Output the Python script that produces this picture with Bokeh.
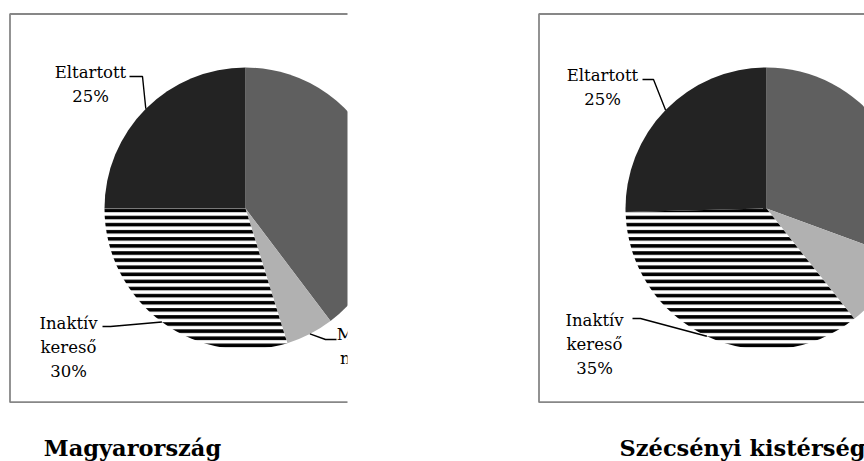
import math
from bokeh.plotting import figure
from bokeh.models import Range1d, ColumnDataSource
from bokeh.core.properties import value
from bokeh.embed import file_html
from bokeh.resources import INLINE

# ---- data ----
categories = ["Foglalkoztatott", "Munkanélküli", "Inaktív kereső", "Eltartott"]
hu_values = [39.7, 5.5, 29.8, 25.0]     # Magyarország
sz_values = [30.6, 8.7, 35.3, 25.4]     # Szécsényi kistérség
titles = ["Magyarország", "Szécsényi kistérség"]

slice_colors = ["#5f5f5f", "#b1b1b1", "#ffffff", "#232323"]
slice_hatch = [" ", " ", "-", " "]

W, H = 864, 461
p = figure(width=W, height=H, output_backend="svg", toolbar_location=None,
           x_range=Range1d(0, W), y_range=Range1d(0, H),
           x_axis_type=None, y_axis_type=None, min_border=0,
           background_fill_color="white", border_fill_color="white")
p.outline_line_color = None
p.grid.visible = False

def Y(py):
    return H - py

FONT = value("DejaVu Serif")
LBL_SIZE = 16.5
R = 141

def draw_pie(cx, cy, vals):
    total = sum(vals)
    cum = [0]
    for v in vals:
        cum.append(cum[-1] + v)
    starts = [math.pi / 2 - c / total * 2 * math.pi for c in cum[:-1]]
    ends = [math.pi / 2 - c / total * 2 * math.pi for c in cum[1:]]
    src = ColumnDataSource(dict(x=[cx] * len(vals), y=[Y(cy)] * len(vals),
                                s=starts, e=ends, c=slice_colors, h=slice_hatch))
    p.wedge(x="x", y="y", radius=R, start_angle="s", end_angle="e", direction="clock",
            fill_color="c", line_color=None, hatch_pattern="h", hatch_color="black",
            hatch_scale=7.1, hatch_weight=3.6, source=src)
    mids = {}
    for i, v in enumerate(vals):
        a = math.pi / 2 - (cum[i] + v / 2) / total * 2 * math.pi
        mids[i] = (cx + R * math.cos(a), Y(cy) + R * math.sin(a))
    return mids

def label(lines, xc, base0, leader, end):
    shift = 0.3 * LBL_SIZE
    for k, t in enumerate(lines):
        p.text(x=[xc], y=[Y(base0 + 24 * k - shift)], text=[t], text_font=FONT,
               text_font_size=f"{LBL_SIZE}px", text_align="center",
               text_baseline="alphabetic", text_color="black")
    xs = [leader[0][0], leader[1][0], end[0]]
    ys = [Y(leader[0][1]), Y(leader[1][1]), end[1]]
    p.line(xs, ys, line_color="black", line_width=1.4)

# ---- left pie: Magyarország ----
m1 = draw_pie(245, 208, hu_values)
label(["Eltartott", f"{round(hu_values[3])}%"], 90, 77, [(129, 76), (142, 76)], m1[3])
label(["Inaktív", "kereső", f"{round(hu_values[2])}%"], 68, 328, [(102, 326), (110, 326)], m1[2])
label(["Munka-", "nélküli", f"{round(hu_values[1])}%"], 368, 339, [(336, 339), (325, 339)], m1[1])

# mask: the left chart area is cut at its right edge
p.quad(left=347, right=536, bottom=Y(436), top=Y(0), fill_color="white", line_color=None)

# ---- right pie: Szécsényi kistérség ----
m2 = draw_pie(766, 208, sz_values)
label(["Eltartott", f"{round(sz_values[3])}%"], 602, 80, [(642, 79), (653, 79)], m2[3])
label(["Inaktív", "kereső", f"{round(sz_values[2])}%"], 594, 325, [(632, 318), (640, 318)], m2[2])

# ---- frames ----
for (x0, x1) in [(9.5, 347), (538.5, 900)]:
    p.line([x1, x0, x0, x1], [Y(13.5), Y(13.5), Y(401.7), Y(401.7)],
           line_color="#878787", line_width=1.8)

# ---- titles ----
TSIZE = 22.5
p.text(x=[132, 742], y=[Y(454 - 0.3 * TSIZE), Y(454 - 0.3 * TSIZE)], text=titles,
       text_font=FONT, text_font_style="bold", text_font_size=f"{TSIZE}px",
       text_align="center", text_baseline="alphabetic", text_color="black")

open("out.html", "w").write(file_html(p, INLINE))
